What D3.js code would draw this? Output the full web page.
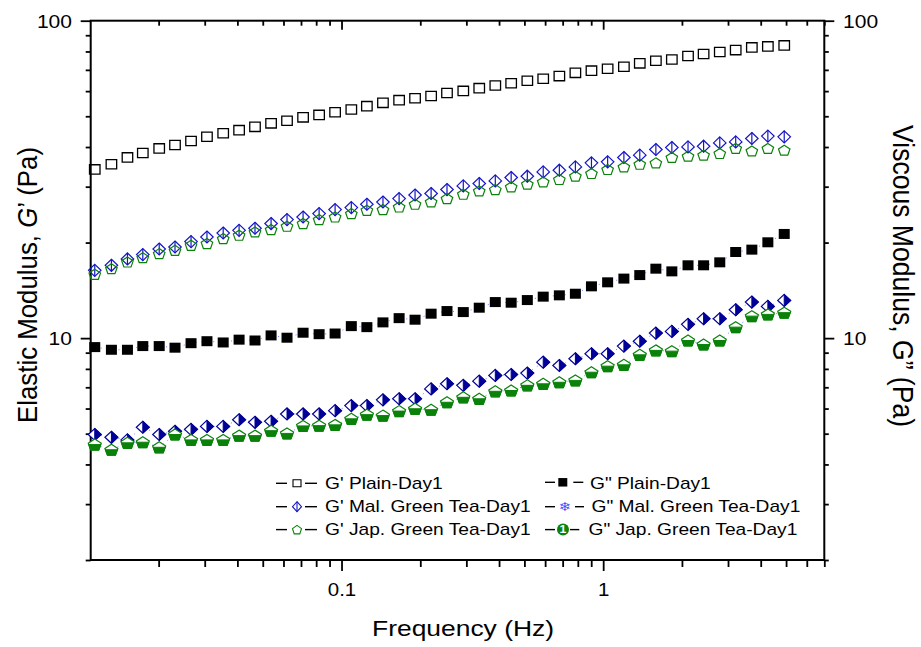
<!DOCTYPE html>
<html>
<head>
<meta charset="utf-8">
<script src="https://cdn.jsdelivr.net/npm/d3@7"></script>
<style>
  body { margin: 0; background: #fff; }
  text { font-family: "Liberation Sans", Arial, sans-serif; fill: #000; }
</style>
</head>
<body>
<svg id="chart" width="921" height="647"></svg>
<script>
// Frequency sweep (Hz)
const frequency = [0.0114, 0.0132, 0.0152, 0.0174, 0.0201, 0.0231, 0.0266, 0.0306, 0.0353, 0.0406,
  0.0467, 0.0538, 0.0619, 0.0713, 0.0821, 0.0945, 0.109, 0.125, 0.144, 0.166,
  0.191, 0.220, 0.253, 0.292, 0.336, 0.387, 0.445, 0.513, 0.590, 0.680,
  0.783, 0.902, 1.04, 1.20, 1.38, 1.59, 1.83, 2.11, 2.42, 2.79,
  3.21, 3.70, 4.26, 4.92];

// Elastic modulus G' (Pa)
const gPrimePlain = [34.0, 35.3, 37.1, 38.3, 39.6, 40.6, 41.8, 43.1, 44.2, 45.2,
  46.3, 47.5, 48.4, 49.6, 50.5, 51.5, 52.5, 53.8, 55.1, 56.2,
  57.0, 57.9, 59.2, 60.1, 61.3, 62.5, 63.5, 64.7, 65.6, 66.9,
  68.5, 69.6, 70.6, 71.6, 73.4, 74.8, 75.5, 77.4, 78.5, 79.7,
  80.8, 82.4, 83.0, 83.6];
const gPrimeMal = [16.35, 16.96, 17.76, 18.33, 19.09, 19.37, 20.14, 20.83, 21.44, 21.86,
  22.19, 22.96, 23.63, 24.08, 24.68, 25.41, 25.78, 26.41, 26.85, 27.52,
  28.25, 28.55, 29.38, 30.17, 30.70, 31.28, 32.06, 32.37, 33.39, 33.81,
  34.63, 35.66, 35.92, 37.08, 37.70, 39.29, 39.86, 40.04, 40.24, 41.22,
  41.52, 42.56, 43.29, 43.07];
const gPrimeJap = [15.89, 16.55, 17.37, 17.93, 18.46, 18.91, 19.61, 19.86, 20.59, 21.09,
  21.60, 21.98, 22.51, 22.96, 23.63, 24.08, 24.68, 25.28, 25.41, 25.89,
  26.41, 26.85, 27.52, 28.40, 29.09, 29.38, 29.95, 30.54, 31.05, 31.60,
  32.37, 33.01, 33.98, 34.63, 35.30, 35.66, 37.08, 37.43, 37.70, 38.16,
  39.60, 38.89, 39.60, 39.09];

// Viscous modulus G'' (Pa)
const gDoublePlain = [9.37, 9.19, 9.19, 9.44, 9.44, 9.33, 9.64, 9.78, 9.69, 9.89,
  9.83, 10.20, 10.03, 10.40, 10.29, 10.34, 10.91, 10.83, 11.21, 11.56,
  11.43, 11.94, 12.17, 12.08, 12.47, 12.99, 12.93, 13.18, 13.51, 13.64,
  13.80, 14.56, 14.99, 15.40, 15.80, 16.55, 16.23, 16.96, 16.96, 17.33,
  18.68, 19.00, 20.04, 21.29];
const gDoubleMal = [4.97, 4.87, 4.78, 5.24, 4.97, 5.09, 5.16, 5.27, 5.27, 5.53,
  5.43, 5.47, 5.77, 5.77, 5.77, 5.91, 6.13, 6.13, 6.39, 6.44,
  6.44, 6.92, 7.18, 7.10, 7.32, 7.63, 7.68, 7.76, 8.40, 8.20,
  8.61, 8.93, 8.93, 9.44, 9.78, 10.37, 10.50, 11.05, 11.51, 11.51,
  12.29, 12.99, 12.59, 13.15];
const gDoubleJap = [4.62, 4.45, 4.68, 4.70, 4.53, 4.97, 4.78, 4.78, 4.78, 4.93,
  4.93, 5.11, 5.01, 5.29, 5.30, 5.33, 5.57, 5.74, 5.70, 5.89,
  5.99, 5.95, 6.28, 6.51, 6.44, 6.80, 6.84, 7.10, 7.18, 7.26,
  7.36, 7.81, 8.16, 8.24, 8.86, 9.15, 9.10, 9.83, 9.55, 9.83,
  10.83, 11.73, 11.88, 12.03];

const xMajorTicks = [0.1, 1];
const xTickLabels = ["0.1", "1"];
const yMajorTicks = [10, 100];
const yTickLabels = ["10", "100"];

const legendLeftLabels = ["G' Plain-Day1", "G' Mal. Green Tea-Day1", "G' Jap. Green Tea-Day1"];
const legendRightLabels = ['G" Plain-Day1', 'G" Mal. Green Tea-Day1', 'G" Jap. Green Tea-Day1'];

// ---------------------------------------------------------------
const SX = 1.17;               // horizontal glyph widening used throughout
const plot = { left: 90.7, right: 824.3, top: 20.7, bottom: 560 };
const BLUE = "#1515c8", NAVY = "#000099", GREEN = "#0a820a", LINEBLUE = "#3a52ff";

const svg = d3.select("#chart");

const x = d3.scaleLog().domain([0.011, 7]).range([plot.left, plot.right]);
const y = d3.scaleLog().domain([2, 100]).range([plot.bottom, plot.top]);

const xMinor = x.ticks().filter(v => !xMajorTicks.some(m => Math.abs(m - v) < 1e-9));
const yMinor = y.ticks().filter(v => !yMajorTicks.some(m => Math.abs(m - v) < 1e-9));

function styleTicks(g) {
  g.select(".domain").remove();
  g.selectAll(".tick line").attr("stroke", "#000").attr("stroke-width", 1.8);
}

// bottom axis
svg.append("g").attr("transform", `translate(0,${plot.bottom})`)
  .call(d3.axisBottom(x).tickValues(xMinor).tickSize(7).tickFormat("")).call(styleTicks);
svg.append("g").attr("transform", `translate(0,${plot.bottom})`)
  .call(d3.axisBottom(x).tickValues(xMajorTicks).tickSize(11).tickFormat((d, i) => xTickLabels[i]))
  .call(styleTicks)
  .call(g => g.selectAll("text").attr("y", 36).attr("dy", 0).attr("font-size", 17.5)
    .attr("font-family", '"Liberation Sans", Arial, sans-serif').attr("fill", "#000")
    .attr("transform", `scale(${SX},1)`));

// top axis, ticks pointing inward
svg.append("g").attr("transform", `translate(0,${plot.top})`)
  .call(d3.axisBottom(x).tickValues(xMinor).tickSize(5).tickFormat("")).call(styleTicks);
svg.append("g").attr("transform", `translate(0,${plot.top})`)
  .call(d3.axisBottom(x).tickValues(xMajorTicks).tickSize(9).tickFormat("")).call(styleTicks);

// left axis
svg.append("g").attr("transform", `translate(${plot.left},0)`)
  .call(d3.axisLeft(y).tickValues(yMinor).tickSize(5).tickFormat("")).call(styleTicks);
svg.append("g").attr("transform", `translate(${plot.left},0)`)
  .call(d3.axisLeft(y).tickValues(yMajorTicks).tickSize(10).tickFormat((d, i) => yTickLabels[i]))
  .call(styleTicks)
  .call(g => g.selectAll("text").attr("x", -18.7 / SX).attr("dy", "0.36em").attr("font-size", 18)
    .attr("font-family", '"Liberation Sans", Arial, sans-serif').attr("fill", "#000")
    .attr("transform", `scale(${SX},1)`));

// right axis
svg.append("g").attr("transform", `translate(${plot.right},0)`)
  .call(d3.axisRight(y).tickValues(yMinor).tickSize(4.5).tickFormat("")).call(styleTicks);
svg.append("g").attr("transform", `translate(${plot.right},0)`)
  .call(d3.axisRight(y).tickValues(yMajorTicks).tickSize(10).tickFormat((d, i) => yTickLabels[i]))
  .call(styleTicks)
  .call(g => g.selectAll("text").attr("x", 18.7 / SX).attr("dy", "0.36em").attr("font-size", 18)
    .attr("font-family", '"Liberation Sans", Arial, sans-serif').attr("fill", "#000")
    .attr("transform", `scale(${SX},1)`));

// frame
svg.append("rect")
  .attr("x", plot.left).attr("y", plot.top)
  .attr("width", plot.right - plot.left).attr("height", plot.bottom - plot.top)
  .attr("fill", "none").attr("stroke", "#000").attr("stroke-width", 2);

// axis titles
svg.append("text")
  .attr("transform", `translate(463,636)`)
  .attr("text-anchor", "middle").attr("font-size", 22.3)
  .attr("textLength", 182).attr("lengthAdjust", "spacingAndGlyphs")
  .text("Frequency (Hz)");

const leftTitle = svg.append("text")
  .attr("transform", `translate(37,285) rotate(-90) scale(1,${SX})`)
  .attr("text-anchor", "middle").attr("font-size", 24)
  .attr("textLength", 276).attr("lengthAdjust", "spacingAndGlyphs");
leftTitle.append("tspan").text("Elastic Modulus,  ");
leftTitle.append("tspan").attr("font-style", "italic").text("G");
leftTitle.append("tspan").text("\u2019 (Pa)");

svg.append("text")
  .attr("transform", `translate(893,276) rotate(90) scale(1,${SX})`)
  .attr("text-anchor", "middle").attr("font-size", 25)
  .attr("textLength", 302).attr("lengthAdjust", "spacingAndGlyphs")
  .text("Viscous Modulus, G\u201D (Pa)");

// ---------------------------------------------------------------
// marker shapes (w = width, h = height, centred on 0,0)
const squarePath = (w, h) => `M${-w/2},${-h/2}H${w/2}V${h/2}H${-w/2}Z`;
const diamondPath = (w, h) => `M0,${-h/2}L${w/2},0L0,${h/2}L${-w/2},0Z`;
const diamondRightHalf = (w, h) => `M0,${-h/2}L${w/2},0L0,${h/2}Z`;
const pentagonPath = (w, h) =>
  `M0,${-h/2}L${w/2},${-0.118*h}L${0.309*w},${h/2}L${-0.309*w},${h/2}L${-w/2},${-0.118*h}Z`;
const pentagonLowerHalf = (w, h) =>
  `M${-0.4635*w},0L${0.4635*w},0L${0.309*w},${h/2}L${-0.309*w},${h/2}Z`;

function seriesData(values) {
  return frequency.map((f, i) => ({ f, v: values[i] }));
}

const line = d3.line().x(d => x(d.f)).y(d => y(d.v));
const marks = svg.append("g");

// faint dotted connectors of the G'' curves
[gDoublePlain, gDoubleMal, gDoubleJap].forEach(vals => {
  marks.append("path").datum(seriesData(vals)).attr("d", line)
    .attr("fill", "none").attr("stroke", LINEBLUE).attr("stroke-width", 1)
    .attr("stroke-dasharray", "1 5").attr("opacity", 0.75);
});

function drawPoints(values, draw) {
  marks.append("g").selectAll("g").data(seriesData(values)).join("g")
    .attr("transform", d => `translate(${x(d.f)},${y(d.v)})`)
    .each(function () { draw(d3.select(this)); });
}

// G' Plain: open squares
drawPoints(gPrimePlain, g => g.append("path").attr("d", squarePath(10.5, 9.3))
  .attr("fill", "none").attr("stroke", "#000").attr("stroke-width", 1.3));
// G' Mal: open diamonds with vertical bar
drawPoints(gPrimeMal, g => {
  g.append("path").attr("d", diamondPath(12.5, 12)).attr("fill", "none")
    .attr("stroke", BLUE).attr("stroke-width", 1.2);
  g.append("path").attr("d", "M0,-6V6").attr("stroke", BLUE).attr("stroke-width", 1.2);
});
// G' Jap: open pentagons
drawPoints(gPrimeJap, g => g.append("path").attr("d", pentagonPath(11.5, 10))
  .attr("fill", "none").attr("stroke", GREEN).attr("stroke-width", 1.2));
// G'' Plain: filled squares
drawPoints(gDoublePlain, g => g.append("path").attr("d", squarePath(11, 10)).attr("fill", "#000"));
// G'' Mal: half-filled diamonds
drawPoints(gDoubleMal, g => {
  g.append("path").attr("d", diamondPath(13, 12)).attr("fill", "#fff")
    .attr("stroke", NAVY).attr("stroke-width", 1.2);
  g.append("path").attr("d", diamondRightHalf(13, 12)).attr("fill", NAVY).attr("stroke", NAVY).attr("stroke-width", 1);
});
// G'' Jap: half-filled pentagons
drawPoints(gDoubleJap, g => {
  g.append("path").attr("d", pentagonPath(13, 11)).attr("fill", "#fff")
    .attr("stroke", GREEN).attr("stroke-width", 1.2);
  g.append("path").attr("d", pentagonLowerHalf(13, 11)).attr("fill", GREEN).attr("stroke", GREEN).attr("stroke-width", 1);
});

// ---------------------------------------------------------------
// legend
const legend = svg.append("g");
const rowY = [483.3, 506.7, 529.6];
const leftSymbols = [
  g => g.append("path").attr("d", squarePath(8, 7)).attr("fill", "#fff").attr("stroke", "#000").attr("stroke-width", 1.1),
  g => { g.append("path").attr("d", diamondPath(9, 10)).attr("fill", "#fff").attr("stroke", BLUE).attr("stroke-width", 1.1);
         g.append("path").attr("d", "M0,-5V5").attr("stroke", BLUE).attr("stroke-width", 1.1); },
  g => g.append("path").attr("d", pentagonPath(9, 8.5)).attr("fill", "#fff").attr("stroke", GREEN).attr("stroke-width", 1.1)
];
legendLeftLabels.forEach((label, i) => {
  const cy = rowY[i];
  legend.append("line").attr("x1", 276).attr("x2", 287).attr("y1", cy).attr("y2", cy).attr("stroke", "#000").attr("stroke-width", 1.4);
  legend.append("line").attr("x1", 305).attr("x2", 317).attr("y1", cy).attr("y2", cy).attr("stroke", "#000").attr("stroke-width", 1.4);
  leftSymbols[i](legend.append("g").attr("transform", `translate(297,${cy})`));
  legend.append("text").attr("transform", `translate(325,${cy + 5.2}) scale(${SX},1)`)
    .attr("font-size", 16.4).text(label);
});

const rightSymbolX = [562.8, 564.7, 563];
const rightDash2 = [[573.3, 583.3], [575, 584], [570, 579.3]];
const rightTextX = [590, 591.5, 588.5];
legendRightLabels.forEach((label, i) => {
  const cy = rowY[i] - (i === 0 ? 1 : 0);
  legend.append("line").attr("x1", 545).attr("x2", 555).attr("y1", cy).attr("y2", cy).attr("stroke", "#000").attr("stroke-width", 1.4);
  legend.append("line").attr("x1", rightDash2[i][0]).attr("x2", rightDash2[i][1]).attr("y1", cy).attr("y2", cy).attr("stroke", "#000").attr("stroke-width", 1.4);
  legend.append("text").attr("transform", `translate(${rightTextX[i]},${rowY[i] + 5.2}) scale(${SX},1)`)
    .attr("font-size", 16.4).text(label);
});
// right-column symbols
legend.append("path").attr("transform", `translate(${rightSymbolX[0]},${rowY[0] - 1})`)
  .attr("d", squarePath(9, 8.5)).attr("fill", "#000");
legend.append("text").attr("transform", `translate(${rightSymbolX[1]},${rowY[1] + 4.5}) scale(${SX},1)`)
  .attr("text-anchor", "middle").attr("font-size", 12.5)
  .style("font-family", '"DejaVu Sans", sans-serif').style("fill", LINEBLUE).text("\u2744");
legend.append("circle").attr("cx", rightSymbolX[2]).attr("cy", rowY[2]).attr("r", 6).attr("fill", GREEN);
legend.append("text").attr("transform", `translate(${rightSymbolX[2]},${rowY[2] + 3.8}) scale(${SX},1)`)
  .attr("text-anchor", "middle").attr("font-size", 10.5).attr("font-weight", "bold")
  .style("fill", "#fff").text("1");
</script>
</body>
</html>
